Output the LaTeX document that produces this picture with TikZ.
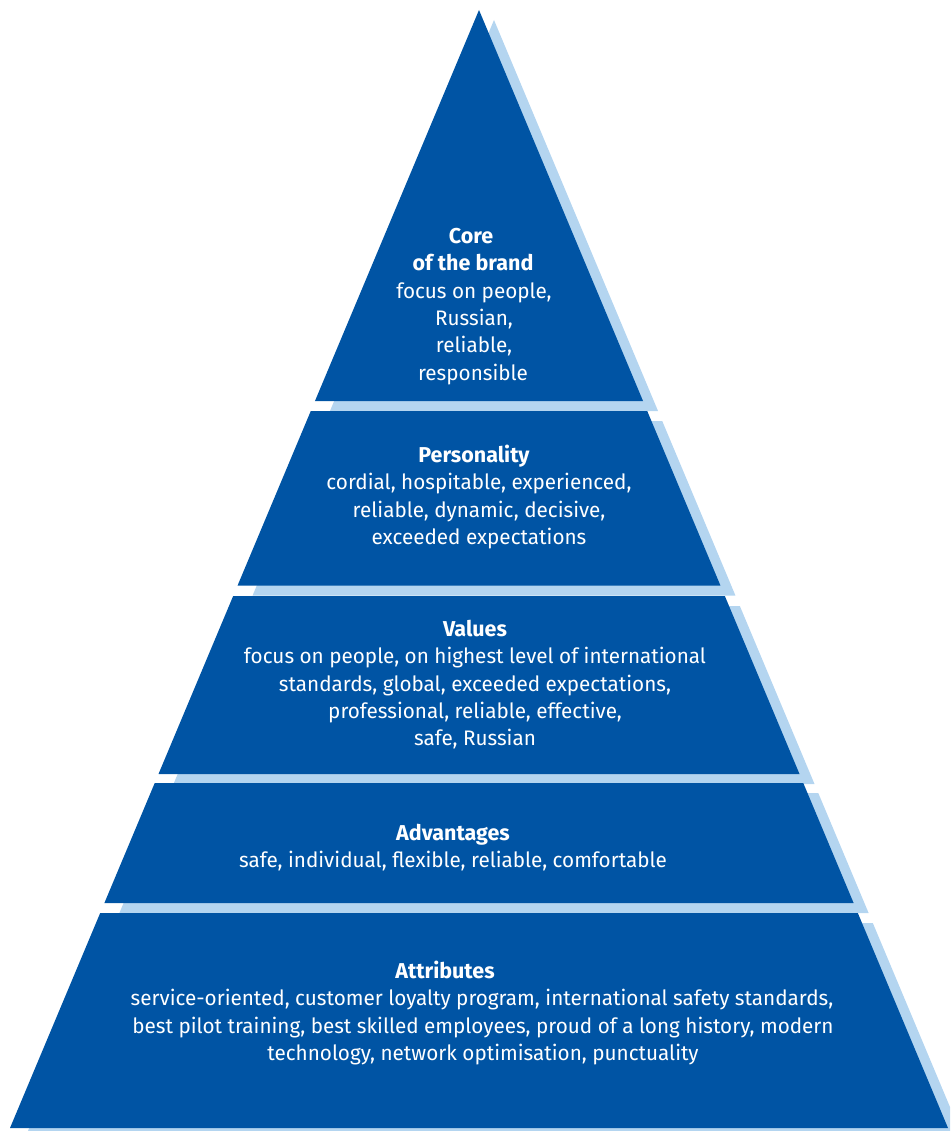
\documentclass[tikz,border=0pt]{standalone}
\usepackage{fontspec}
\setmainfont{Fira Sans}[FakeStretch=0.985, BoldFont={Fira Sans Bold}, BoldFeatures={FakeStretch=1.0}]
\definecolor{mainblue}{HTML}{0054A4}
\definecolor{shadowblue}{HTML}{B4D5F0}
\tikzset{
  band/.style={fill=mainblue, draw=none},
  bandshadow/.style={fill=shadowblue, draw=none},
  txt/.style={text=white, anchor=base, inner sep=0pt, font=\fontsize{21}{27}\selectfont},
  head/.style={txt, font=\fontsize{21.5}{27}\selectfont\bfseries}
}
\begin{document}
\begin{tikzpicture}[x=1pt,y=-1pt]
\useasboundingbox (0,0) rectangle (950,1131);
\clip (0,0) rectangle (950,1131);
% shadows
\begin{scope}[shift={(15,10)}]
  \fill[bandshadow] (479,10) -- (643.03,401) -- (314.97,401) -- cycle;
  \fill[bandshadow] (310.78,411) -- (647.22,411) -- (720.42,585.5) -- (237.58,585.5) -- cycle;
  \fill[bandshadow] (233.17,596) -- (724.83,596) -- (799.50,774) -- (158.50,774) -- cycle;
  \fill[bandshadow] (154.73,783) -- (803.27,783) -- (853.61,903) -- (104.39,903) -- cycle;
  \fill[bandshadow] (100.19,913) -- (857.81,913) -- (948,1128) -- (10,1128) -- cycle;
\end{scope}
% main bands
\fill[band] (479,10) -- (643.03,401) -- (314.97,401) -- cycle;
\fill[band] (310.78,411) -- (647.22,411) -- (720.42,585.5) -- (237.58,585.5) -- cycle;
\fill[band] (233.17,596) -- (724.83,596) -- (799.50,774) -- (158.50,774) -- cycle;
\fill[band] (154.73,783) -- (803.27,783) -- (853.61,903) -- (104.39,903) -- cycle;
\fill[band] (100.19,913) -- (857.81,913) -- (948,1128) -- (10,1128) -- cycle;
% band 1 text
\node[head] (c1) at (471,243.5) {Core};
\node[head] (c2) at (473,270.8) {of the brand};
\node[txt] (c3) at (474,298.1) {focus on people,};
\node[txt] (c4) at (474,325.4) {Russian,};
\node[txt] (c5) at (474,352.7) {reliable,};
\node[txt] (c6) at (473,380) {responsible};
% band 2 text
\node[head] (p1) at (474,462.5) {Personality};
\node[txt] (p2) at (479,489.8) {cordial, hospitable, experienced,};
\node[txt] (p3) at (479,517.1) {reliable, dynamic, decisive,};
\node[txt] (p4) at (479,544.4) {exceeded expectations};
% band 3 text
\node[head] (v1) at (475,636.5) {Values};
\node[txt] (v2) at (475,663.8) {focus on people, on highest level of international};
\node[txt] (v3) at (475,691.1) {standards, global, exceeded expectations,};
\node[txt] (v4) at (475,718.4) {professional, reliable, effective,};
\node[txt] (v5) at (475,745.7) {safe, Russian};
% band 4 text
\node[head] (a1) at (453,840.5) {Advantages};
\node[txt] (a2) at (453,867.8) {safe, individual, flexible, reliable, comfortable};
% band 5 text
\node[head] (t1) at (445,978.5) {Attributes};
\node[txt] (t2) at (482,1005.8) {service-oriented, customer loyalty program, international safety standards,};
\node[txt] (t3) at (483,1033.1) {best pilot training, best skilled employees, proud of a long history, modern};
\node[txt] (t4) at (483,1060.4) {technology, network optimisation, punctuality};
\end{tikzpicture}
\end{document}
